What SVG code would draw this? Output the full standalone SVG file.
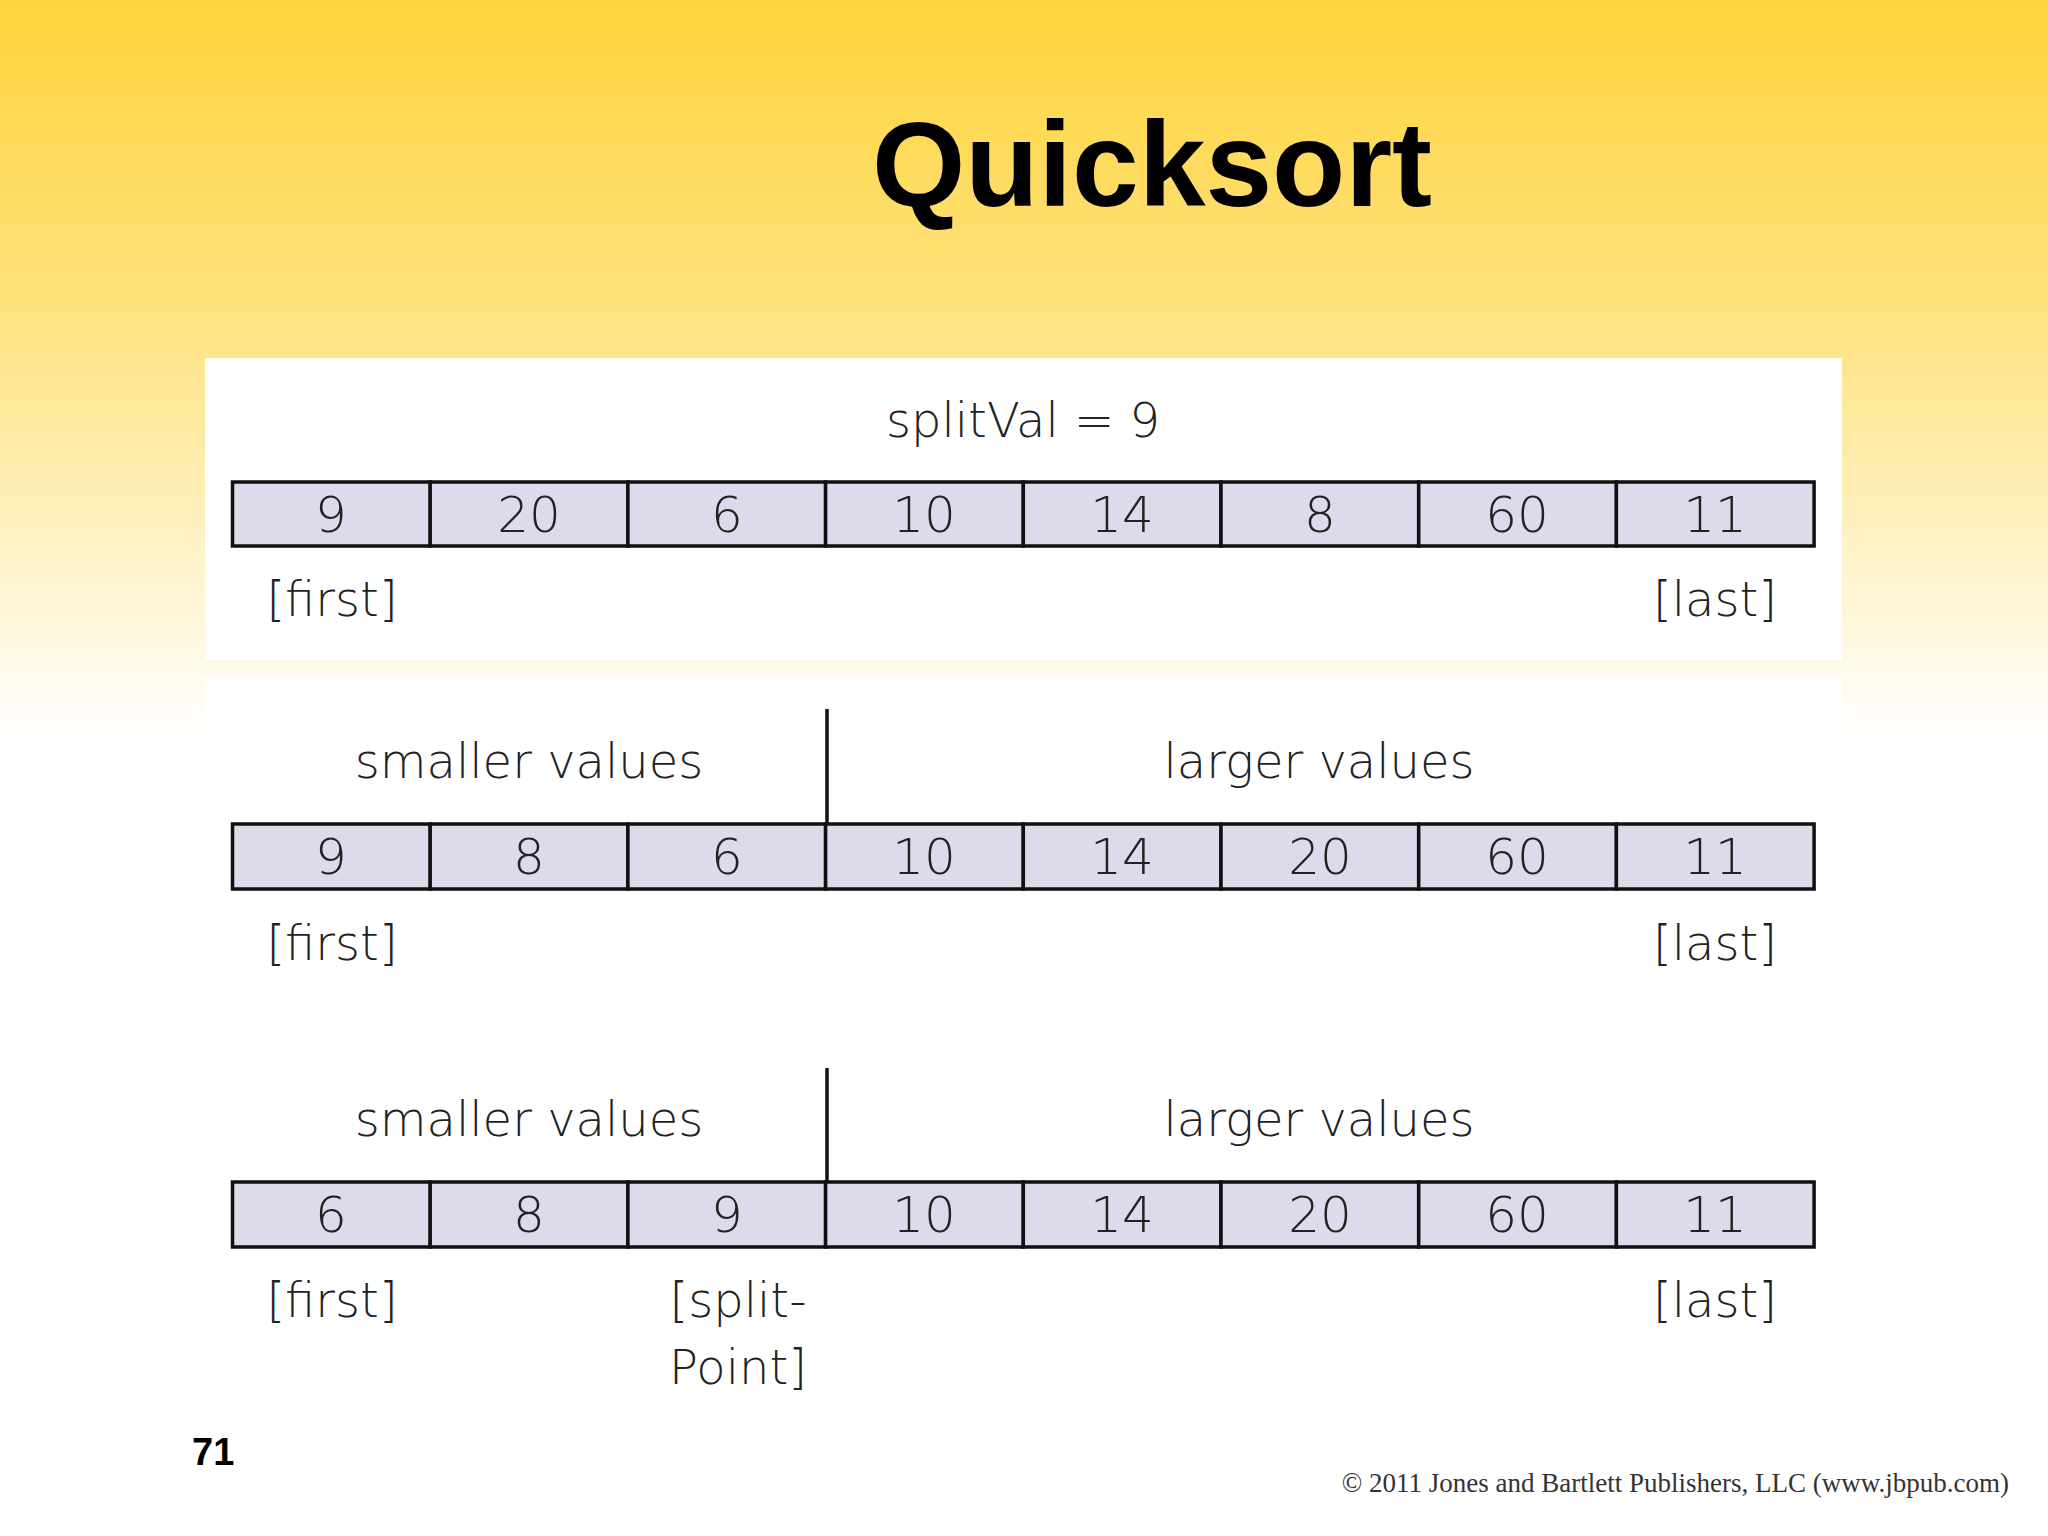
<svg xmlns="http://www.w3.org/2000/svg" width="2048" height="1536" viewBox="0 0 2048 1536">
<defs>
<linearGradient id="bg" x1="0" y1="0" x2="0" y2="1">
<stop offset="0" stop-color="#FFD43A"/>
<stop offset="0.2" stop-color="#FEE27E"/>
<stop offset="0.48" stop-color="#FFFFFF"/>
<stop offset="1" stop-color="#FFFFFF"/>
</linearGradient>
<style>
.c{fill:#DCDAEB;stroke:#111;stroke-width:3.5}
.n{font-family:"DejaVu Sans",sans-serif;font-size:50px;fill:#222;text-anchor:middle;font-weight:300}
.l{font-family:"DejaVu Sans",sans-serif;font-size:48px;fill:#222;text-anchor:middle;font-weight:300}
.v{stroke:#111;stroke-width:3.5}
</style>
</defs>
<rect width="2048" height="1536" fill="url(#bg)"/>
<rect x="205" y="358" width="1637" height="302" fill="#fff"/>
<rect x="205" y="678" width="1637" height="740" fill="#fff"/>
<text x="1152" y="206" font-family="Liberation Sans, sans-serif" font-weight="bold" font-size="120" text-anchor="middle" fill="#000">Quicksort</text>
<g id="row1">
<text class="l" x="1023" y="437">splitVal = 9</text>
<g>
<rect class="c" x="232.5" y="482" width="197.7" height="64"/><rect class="c" x="430.2" y="482" width="197.7" height="64"/><rect class="c" x="627.9" y="482" width="197.7" height="64"/><rect class="c" x="825.6" y="482" width="197.7" height="64"/><rect class="c" x="1023.3" y="482" width="197.7" height="64"/><rect class="c" x="1221" y="482" width="197.7" height="64"/><rect class="c" x="1418.7" y="482" width="197.7" height="64"/><rect class="c" x="1616.4" y="482" width="197.7" height="64"/>
</g>
<text class="n" x="331" y="532">9</text><text class="n" x="529" y="532">20</text><text class="n" x="727" y="532">6</text><text class="n" x="924" y="532">10</text><text class="n" x="1122" y="532">14</text><text class="n" x="1320" y="532">8</text><text class="n" x="1517" y="532">60</text><text class="n" x="1715" y="532">11</text>
<text class="l" x="332" y="616">[first]</text><text class="l" x="1715" y="616">[last]</text>
</g>
<g id="row2">
<text class="l" x="529" y="778">smaller values</text><text class="l" x="1319" y="778">larger values</text>
<rect class="c" x="232.5" y="824" width="197.7" height="65"/><rect class="c" x="430.2" y="824" width="197.7" height="65"/><rect class="c" x="627.9" y="824" width="197.7" height="65"/><rect class="c" x="825.6" y="824" width="197.7" height="65"/><rect class="c" x="1023.3" y="824" width="197.7" height="65"/><rect class="c" x="1221" y="824" width="197.7" height="65"/><rect class="c" x="1418.7" y="824" width="197.7" height="65"/><rect class="c" x="1616.4" y="824" width="197.7" height="65"/>
<text class="n" x="331" y="874">9</text><text class="n" x="529" y="874">8</text><text class="n" x="727" y="874">6</text><text class="n" x="924" y="874">10</text><text class="n" x="1122" y="874">14</text><text class="n" x="1320" y="874">20</text><text class="n" x="1517" y="874">60</text><text class="n" x="1715" y="874">11</text>
<text class="l" x="332" y="960">[first]</text><text class="l" x="1715" y="960">[last]</text>
</g>
<g id="row3">
<text class="l" x="529" y="1136">smaller values</text><text class="l" x="1319" y="1136">larger values</text>
<rect class="c" x="232.5" y="1182" width="197.7" height="65"/><rect class="c" x="430.2" y="1182" width="197.7" height="65"/><rect class="c" x="627.9" y="1182" width="197.7" height="65"/><rect class="c" x="825.6" y="1182" width="197.7" height="65"/><rect class="c" x="1023.3" y="1182" width="197.7" height="65"/><rect class="c" x="1221" y="1182" width="197.7" height="65"/><rect class="c" x="1418.7" y="1182" width="197.7" height="65"/><rect class="c" x="1616.4" y="1182" width="197.7" height="65"/>
<text class="n" x="331" y="1232">6</text><text class="n" x="529" y="1232">8</text><text class="n" x="727" y="1232">9</text><text class="n" x="924" y="1232">10</text><text class="n" x="1122" y="1232">14</text><text class="n" x="1320" y="1232">20</text><text class="n" x="1517" y="1232">60</text><text class="n" x="1715" y="1232">11</text>
<text class="l" x="332" y="1317">[first]</text><text class="l" x="738" y="1317">[split-</text><text class="l" x="738" y="1384">Point]</text><text class="l" x="1715" y="1317">[last]</text>
</g>
<g id="connectors">
<line class="v" x1="827" y1="709" x2="827" y2="824"/>
<line class="v" x1="827" y1="1068" x2="827" y2="1182"/>
</g>
<text x="192" y="1465" font-family="Liberation Sans, sans-serif" font-weight="bold" font-size="38" fill="#000">71</text>
<text x="2009" y="1492" font-family="Liberation Serif, serif" font-size="27" fill="#333" text-anchor="end">© 2011 Jones and Bartlett Publishers, LLC (www.jbpub.com)</text>
</svg>
